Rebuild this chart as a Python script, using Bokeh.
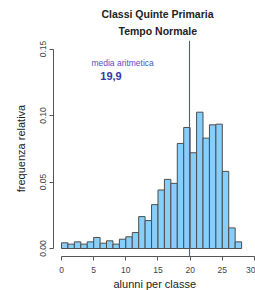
from bokeh.plotting import figure
from bokeh.models import Range1d, FixedTicker, Span, Title, NumeralTickFormatter
from bokeh.core.properties import value
from bokeh.embed import file_html
from bokeh.resources import INLINE

# data
bin_edges = list(range(0, 29))
rel_freq = [0.0043, 0.0033, 0.0050, 0.0033, 0.0050, 0.0083, 0.0040, 0.0058,
            0.0033, 0.0070, 0.0088, 0.0120, 0.0240, 0.0210, 0.0330, 0.0440,
            0.0520, 0.0490, 0.0790, 0.0910, 0.0720, 0.1025, 0.0830, 0.0930,
            0.0935, 0.0580, 0.0155, 0.0050]
mean_value = 19.9
x_ticks = [0, 5, 10, 15, 20, 25, 30]
y_ticks = [0.0, 0.05, 0.10, 0.15]
title_lines = ["Classi Quinte Primaria", "Tempo Normale"]
x_label = "alunni per classe"
y_label = "frequenza relativa"
mean_label = "media aritmetica"

FONT = "Liberation Sans"

p = figure(width=255, height=290, output_backend="svg", toolbar_location=None,
           x_range=Range1d(-1.244, 30.16), y_range=Range1d(-0.006, 0.1564),
           min_border_left=53, min_border_right=0, min_border_top=40,
           min_border_bottom=34)
p.outline_line_color = None
p.grid.visible = False
p.background_fill_color = "white"

p.quad(left=bin_edges[:-1], right=bin_edges[1:], bottom=0, top=rel_freq,
       fill_color="#87CEFA", line_color="#4d4d4d", line_width=1)

p.add_layout(Span(location=mean_value, dimension="height",
                  line_color="#5050d0", line_width=1.1))

p.text(x=[9.5], y=[0.1398], text=[mean_label], text_align="center",
       text_baseline="middle", text_font=value(FONT), text_font_size="8.5px",
       text_color="#5252c4")
p.text(x=[7.7], y=[0.130], text=[f"{mean_value:.1f}".replace(".", ",")],
       text_align="center", text_baseline="middle", text_font=value(FONT),
       text_font_size="11px", text_font_style="bold", text_color="#3434a8")

# title: two centred lines (first line outermost)
p.title.text = title_lines[0]
p.title.align = "left"
p.title.offset = 48
p.title.standoff = 0
p.title.text_font = FONT
p.title.text_font_size = "10.5px"
p.title.text_font_style = "bold"
p.title.text_color = "#222222"
p.add_layout(Title(text=title_lines[1], align="left", offset=65, standoff=7,
                   text_font=FONT, text_font_size="10.5px",
                   text_font_style="bold", text_color="#222222"), "above")

# axes
for ax in (p.xaxis[0], p.yaxis[0]):
    ax.axis_line_color = "#555555"
    ax.major_tick_line_color = "#555555"
    ax.major_tick_out = 4
    ax.major_tick_in = 0
    ax.minor_tick_line_color = None
    ax.major_label_text_font = FONT
    ax.major_label_text_font_size = "8.5px"
    ax.major_label_text_color = "#444444"

p.xaxis.ticker = FixedTicker(ticks=x_ticks)
p.xaxis.bounds = (x_ticks[0], x_ticks[-1])
p.xaxis.major_label_standoff = 6

p.yaxis.ticker = FixedTicker(ticks=y_ticks)
p.yaxis.bounds = (y_ticks[0], y_ticks[-1])
p.yaxis.formatter = NumeralTickFormatter(format="0.00")
p.yaxis.major_label_orientation = "vertical"
p.yaxis.major_label_standoff = 3
p.yaxis.axis_label = y_label
p.yaxis.axis_label_text_font = FONT
p.yaxis.axis_label_text_font_size = "11px"
p.yaxis.axis_label_text_font_style = "normal"
p.yaxis.axis_label_text_color = "#222222"
p.yaxis.axis_label_standoff = 11

p.add_layout(Title(text=x_label, align="left", offset=60, standoff=1,
                   text_font=FONT, text_font_size="11px",
                   text_font_style="normal", text_color="#222222"), "below")

open("out.html", "w").write(file_html(p, INLINE))
